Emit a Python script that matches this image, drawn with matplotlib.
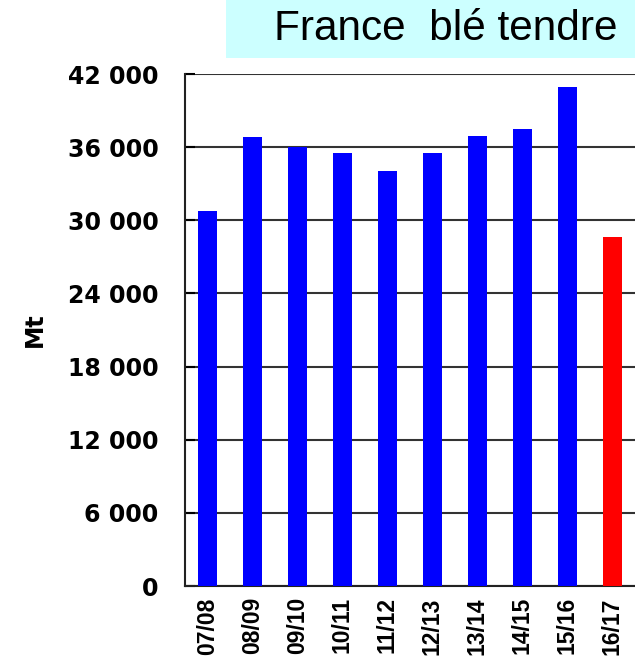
import matplotlib.pyplot as plt
from matplotlib.patches import Rectangle
from matplotlib.ticker import FuncFormatter

campagnes = ["07/08", "08/09", "09/10", "10/11", "11/12",
             "12/13", "13/14", "14/15", "15/16", "16/17"]
production = [30760, 36830, 36010, 35520, 34040,
              35520, 36920, 37490, 40940, 28630]
couleurs = ["#0000ff"] * 9 + ["#ff0000"]
yticks = [0, 6000, 12000, 18000, 24000, 30000, 36000, 42000]

fig = plt.figure(figsize=(6.35, 6.58), dpi=100)
ax = fig.add_axes([0.2913, 0.1094, 0.7087, 0.7781])

x = range(len(campagnes))
ax.bar(x, production, width=0.42, color=couleurs, zorder=3)

ax.set_xlim(-0.5, 9.5)
ax.set_ylim(0, 42000)
ax.set_yticks(yticks)
ax.yaxis.set_major_formatter(FuncFormatter(lambda v, p: f"{int(v):,}".replace(",", " ")))
ax.grid(axis="y", color="#333333", linewidth=1.5, zorder=1)

ax.set_xticks(list(x))
ax.set_xticklabels(campagnes, rotation=90, fontweight="bold",
                   family="Liberation Sans", fontsize=16.5)
for lab in ax.get_yticklabels():
    lab.set_fontweight("bold")
    lab.set_family("DejaVu Sans")
    lab.set_fontsize(17)

ax.tick_params(axis="y", direction="in", length=7, width=1.5, pad=19)
ax.tick_params(axis="x", length=0, pad=8)

for s in ["top", "right"]:
    ax.spines[s].set_visible(False)
for s in ["left", "bottom"]:
    ax.spines[s].set_linewidth(1.5)
    ax.spines[s].set_color("#222222")

fig.text(35 / 635, 1 - 330 / 658, "Mt", rotation=90, fontweight="bold",
         fontsize=17, ha="center", va="center", family="DejaVu Sans")

# title box
fig.patches.append(Rectangle((226 / 635, 1 - 58 / 658), 409 / 635, 58 / 658,
                             transform=fig.transFigure, facecolor="#ccffff",
                             edgecolor="none", zorder=0))
fig.text(446 / 635, 1 - 29 / 658, "France  blé tendre", fontsize=30.5,
         family="Liberation Sans", ha="center", va="center")

fig.savefig("out.png", dpi=100)
